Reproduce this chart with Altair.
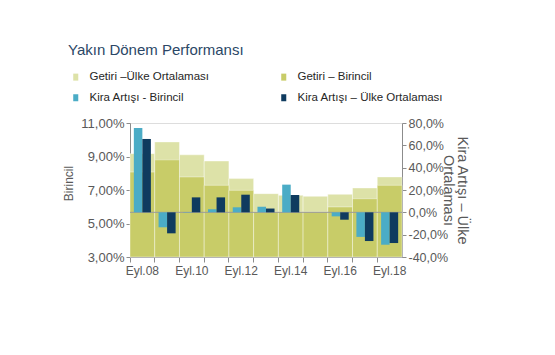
import altair as alt
import pandas as pd

periods = ["Eyl.08", "Eyl.09", "Eyl.10", "Eyl.11", "Eyl.12", "Eyl.13",
           "Eyl.14", "Eyl.15", "Eyl.16", "Eyl.17", "Eyl.18"]
shown_labels = ["Eyl.08", "Eyl.10", "Eyl.12", "Eyl.14", "Eyl.16", "Eyl.18"]

getiri_ulke = [9.17, 9.87, 9.10, 8.73, 7.68, 6.78, 6.68, 6.62, 6.74, 7.12, 7.78]
getiri_birincil = [8.07, 8.80, 7.78, 7.28, 6.98, 5.70, 5.70, 5.70, 5.99, 6.48, 7.28]
kira_birincil = [75.5, -13.4, 0.3, 2.7, 4.5, 5.0, 24.8, 0.0, -3.6, -22.0, -29.0]
kira_ulke = [65.7, -18.8, 13.4, 13.4, 15.8, 3.4, 15.5, 0.0, -6.6, -25.7, -27.5]

s_gu = "Getiri –Ülke Ortalaması"
s_gb = "Getiri – Birincil"
s_kb = "Kira Artışı - Birincil"
s_ku = "Kira Artışı – Ülke Ortalaması"
series_order = [s_gu, s_gb, s_kb, s_ku]
series_colors = ["#dde2a8", "#c8cc68", "#4bacc6", "#0f3b5f"]

left_ticks = [3, 5, 7, 9, 11]
right_ticks = [-40, -20, 0, 20, 40, 60, 80]

getiri_df = pd.DataFrame({
    "period": periods * 2,
    "series": [s_gu] * len(periods) + [s_gb] * len(periods),
    "value": getiri_ulke + getiri_birincil,
})
kira_df = pd.DataFrame({
    "period": periods * 2,
    "series": [s_kb] * len(periods) + [s_ku] * len(periods),
    "value": kira_birincil + kira_ulke,
})
zero_df = pd.DataFrame({"value": [0]})

FONT = "Liberation Sans"
GRAY = "#595959"
AXC = "#8c8c8c"

label_list = "[" + ",".join("'" + s + "'" for s in shown_labels) + "]"

color = alt.Color(
    "series:N",
    scale=alt.Scale(domain=series_order, range=series_colors),
    legend=alt.Legend(
        title=None, orient="none", legendX=-60, legendY=-52, columns=2,
        direction="horizontal",
        symbolType="M-0.72,-1H0.72V1H-0.72Z", symbolSize=49,
        symbolStrokeWidth=0, symbolOpacity=1,
        labelFont=FONT, labelFontSize=11.5, labelColor="#262626",
        labelOffset=8, columnPadding=68, rowPadding=8, padding=0,
        labelLimit=300,
    ),
)

x_enc = alt.X(
    "period:N", sort=periods,
    scale=alt.Scale(paddingInner=0, paddingOuter=0),
    axis=alt.Axis(
        title=None, bandPosition=0, labelAngle=0,
        labelExpr="indexof(" + label_list + ", datum.value) >= 0 ? datum.value : ''",
        labelOverlap=False, labelFont=FONT, labelFontSize=12, labelColor=GRAY,
        labelPadding=3, tickSize=5, tickColor=AXC, domainColor=AXC,
    ),
)

getiri = alt.Chart(getiri_df).mark_bar(
    stroke="white", strokeWidth=0.8, strokeOpacity=0.5
).encode(
    x=x_enc,
    y=alt.Y(
        "value:Q",
        scale=alt.Scale(domain=[3, 11], zero=False, nice=False),
        axis=alt.Axis(
            title="Birincil", values=left_ticks, orient="left",
            labelExpr="datum.value + ',00%'", labelOverlap=False,
            labelFont=FONT, labelFontSize=13, labelColor=GRAY,
            titleFont=FONT, titleFontSize=12, titleColor=GRAY,
            titleFontWeight="normal", titlePadding=5, titleY=60,
            tickSize=4, tickColor=AXC, domainColor=AXC, grid=False,
        ),
    ),
    y2=alt.datum(3),
    color=color,
)

right_axis = alt.Axis(
    title=["Kira Artışı – Ülke", "Ortalaması"], values=right_ticks,
    orient="right", labelOverlap=False,
    labelExpr="datum.value + ',0%'",
    labelFont=FONT, labelFontSize=12.5, labelColor=GRAY,
    titleFont=FONT, titleFontSize=14.5, titleColor=GRAY,
    titleFontWeight="normal", titleAngle=90, titlePadding=-7,
    titleLineHeight=14,
    tickSize=4, tickColor=AXC, domainColor=AXC, grid=False,
)
right_scale = alt.Scale(domain=[-40, 80], zero=False, nice=False)

kira_bars = alt.Chart(kira_df).mark_bar().encode(
    x=x_enc,
    xOffset=alt.XOffset(
        "series:N", sort=[s_kb, s_ku],
        scale=alt.Scale(domain=[s_kb, s_ku], paddingInner=0, paddingOuter=0.45),
    ),
    y=alt.Y("value:Q", stack=None, scale=right_scale, axis=right_axis),
    color=color,
)

zero_rule = alt.Chart(zero_df).mark_rule(color="#9a9a9a", strokeWidth=1).encode(
    y=alt.Y("value:Q", scale=right_scale, axis=right_axis)
)

right_layer = alt.layer(zero_rule, kira_bars)

chart = alt.layer(getiri, right_layer).resolve_scale(
    y="independent"
).properties(
    width=272, height=134,
    autosize=alt.AutoSizeParams(type="none"),
    padding={"left": 130, "top": 123, "right": 153, "bottom": 98},
    title=alt.TitleParams(
        "Yakın Dönem Performansı", anchor="start", frame="group",
        dx=-62, dy=-9, font=FONT, fontSize=15, fontWeight="normal",
        color="#2b4766",
    ),
).configure_view(stroke=None).configure(background="white")

chart.save("out.html", embed_options={"renderer": "svg", "actions": False})
